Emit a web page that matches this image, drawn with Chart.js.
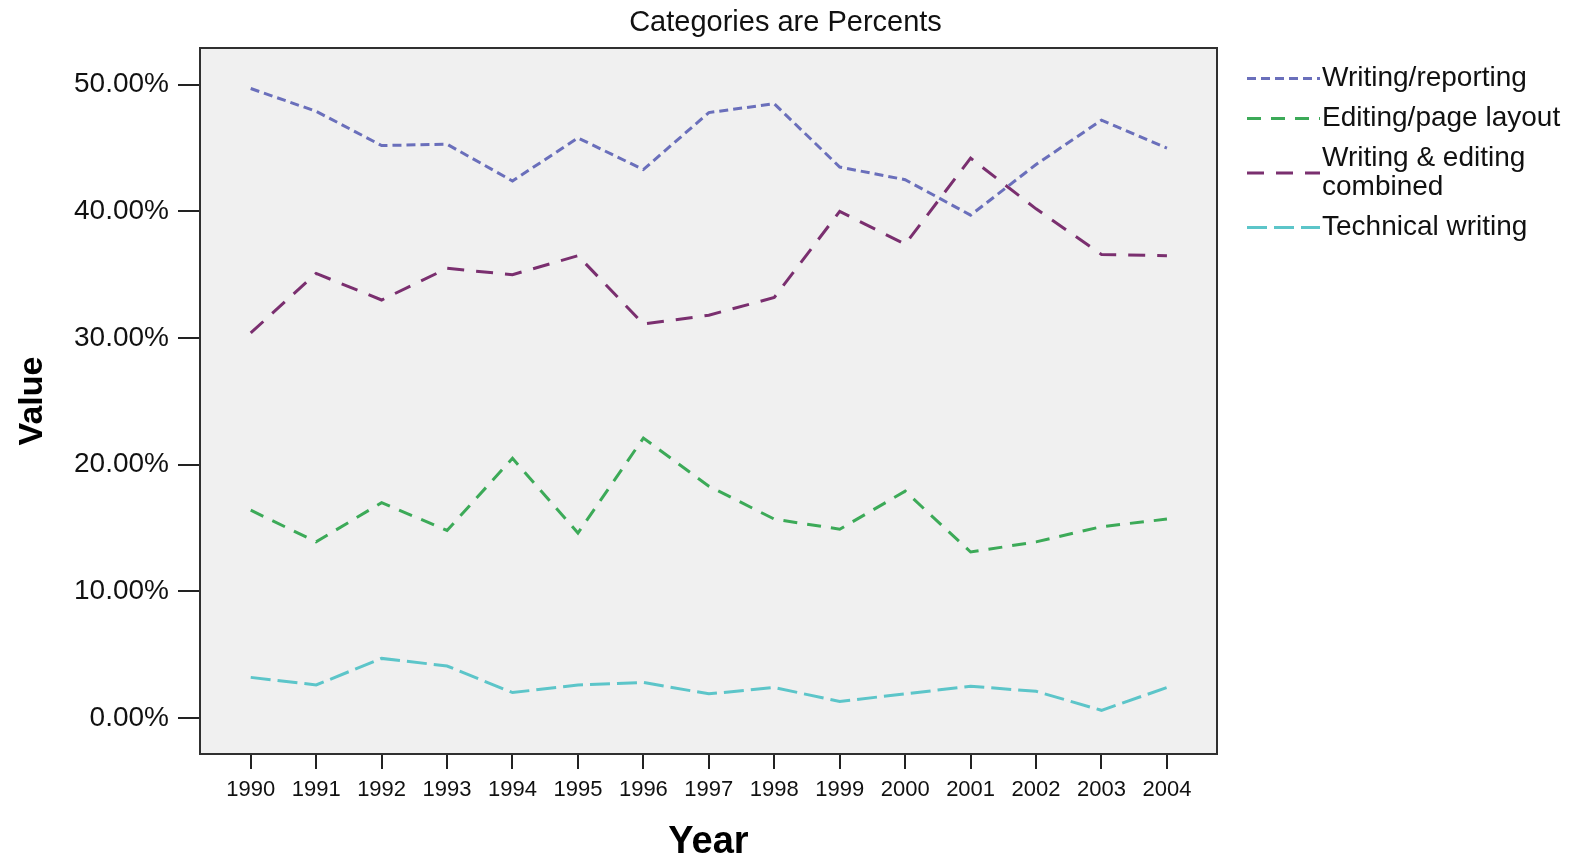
<!DOCTYPE html>
<html>
<head>
<meta charset="utf-8">
<script src="https://cdn.jsdelivr.net/npm/chart.js@4/dist/chart.umd.min.js"></script>
<style>
  html, body { margin: 0; padding: 0; background: #ffffff; }
  #wrap { width: 1571px; height: 862px; }
</style>
</head>
<body>
<div id="wrap"><canvas id="c" width="1571" height="862"></canvas></div>
<script>
const years = [1990, 1991, 1992, 1993, 1994, 1995, 1996, 1997, 1998, 1999, 2000, 2001, 2002, 2003, 2004];
const writingReporting = [49.7, 47.9, 45.2, 45.3, 42.4, 45.8, 43.3, 47.8, 48.5, 43.5, 42.5, 39.7, 43.7, 47.2, 45.0];
const editingLayout   = [16.4, 13.9, 17.0, 14.8, 20.5, 14.6, 22.1, 18.3, 15.7, 14.9, 17.9, 13.1, 13.9, 15.1, 15.7];
const writingEditing  = [30.4, 35.1, 33.0, 35.5, 35.0, 36.5, 31.1, 31.8, 33.2, 40.0, 37.4, 44.2, 40.2, 36.6, 36.5];
const technicalWriting = [3.2, 2.6, 4.7, 4.1, 2.0, 2.6, 2.8, 1.9, 2.4, 1.3, 1.9, 2.5, 2.1, 0.6, 2.4];
const yTickValues = [0, 10, 20, 30, 40, 50];
const seriesLabels = ['Writing/reporting', 'Editing/page layout', ['Writing & editing', 'combined'], 'Technical writing'];
const chartTitle = 'Categories are Percents';
const xTitle = 'Year';
const yTitle = 'Value';

function pts(vals) { return years.map((y, i) => ({ x: y, y: vals[i] })); }

const FONT = '"Liberation Sans", Arial, sans-serif';

const decorPlugin = {
  id: 'decor',
  beforeDraw(chart) {
    const { ctx, chartArea: a } = chart;
    ctx.save();
    ctx.fillStyle = '#f0f0f0';
    ctx.fillRect(a.left, a.top, a.right - a.left, a.bottom - a.top);
    ctx.restore();
  },
  afterDraw(chart) {
    const { ctx, chartArea: a } = chart;
    ctx.save();
    // frame
    ctx.strokeStyle = '#303030';
    ctx.lineWidth = 2;
    ctx.strokeRect(a.left, a.top, a.right - a.left, a.bottom - a.top);
    // title
    ctx.fillStyle = '#111';
    ctx.font = '29px ' + FONT;
    ctx.textAlign = 'center';
    ctx.textBaseline = 'middle';
    ctx.fillText(chartTitle, chart.width / 2, 23);
    // legend
    const lh = 29, gap = 11;
    let top = 64;
    ctx.font = '28px ' + FONT;
    ctx.textAlign = 'left';
    chart.data.datasets.forEach((ds) => {
      const lines = Array.isArray(ds.label) ? ds.label : [ds.label];
      const h = lines.length * lh;
      const cy = top + h / 2;
      ctx.beginPath();
      ctx.setLineDash(ds.borderDash || []);
      ctx.strokeStyle = ds.borderColor;
      ctx.lineWidth = 3;
      ctx.moveTo(1247, cy);
      ctx.lineTo(1320, cy);
      ctx.stroke();
      ctx.setLineDash([]);
      ctx.fillStyle = '#111';
      lines.forEach((t, k) => {
        ctx.fillText(t, 1322, top + lh / 2 + k * lh);
      });
      top += h + gap;
    });
    ctx.restore();
  }
};

const chart = new Chart(document.getElementById('c'), {
  type: 'line',
  data: {
    datasets: [
      { label: seriesLabels[0], data: pts(writingReporting), borderColor: '#6a6fbb', borderDash: [9, 5], borderWidth: 3, pointRadius: 0, tension: 0 },
      { label: seriesLabels[1], data: pts(editingLayout), borderColor: '#3caa58', borderDash: [14, 10], borderWidth: 3, pointRadius: 0, tension: 0 },
      { label: seriesLabels[2], data: pts(writingEditing), borderColor: '#7a2f6f', borderDash: [17, 12], borderWidth: 3, pointRadius: 0, tension: 0 },
      { label: seriesLabels[3], data: pts(technicalWriting), borderColor: '#5cc5c9', borderDash: [20, 7], borderWidth: 3, pointRadius: 0, tension: 0 }
    ]
  },
  options: {
    responsive: false,
    animation: false,
    layout: { padding: { top: 48, right: 354, left: 0, bottom: 0 } },
    plugins: {
      legend: { display: false },
      title: { display: false },
      tooltip: { enabled: false }
    },
    scales: {
      x: {
        type: 'linear',
        min: 1989.225,
        max: 2004.765,
        afterBuildTicks: (s) => { s.ticks = years.map(v => ({ value: v })); },
        afterFit: (s) => { s.height = 108; },
        grid: { drawOnChartArea: false, drawTicks: true, tickLength: 15, color: '#222', lineWidth: 2 },
        border: { display: false },
        ticks: { color: '#111', font: { family: FONT, size: 22 }, padding: 8, maxRotation: 0, autoSkip: false, callback: (v) => String(v) },
        title: { display: true, text: xTitle, color: '#000', font: { family: FONT, size: 38, weight: 'bold', lineHeight: 1.0 }, padding: { top: -4, bottom: 0 } }
      },
      y: {
        min: -2.85,
        max: 52.9,
        afterBuildTicks: (s) => { s.ticks = yTickValues.map(v => ({ value: v })); },
        afterFit: (s) => { s.width = 200; },
        grid: { drawOnChartArea: false, drawTicks: true, tickLength: 22, color: '#222', lineWidth: 2 },
        border: { display: false },
        ticks: { color: '#111', font: { family: FONT, size: 28 }, padding: 9, callback: (v) => v.toFixed(2) + '%' },
        title: { display: true, text: yTitle, color: '#000', font: { family: FONT, size: 34, weight: 'bold', lineHeight: 1.0 }, padding: { top: 16, bottom: 0 } }
      }
    }
  },
  plugins: [decorPlugin]
});
</script>
</body>
</html>
